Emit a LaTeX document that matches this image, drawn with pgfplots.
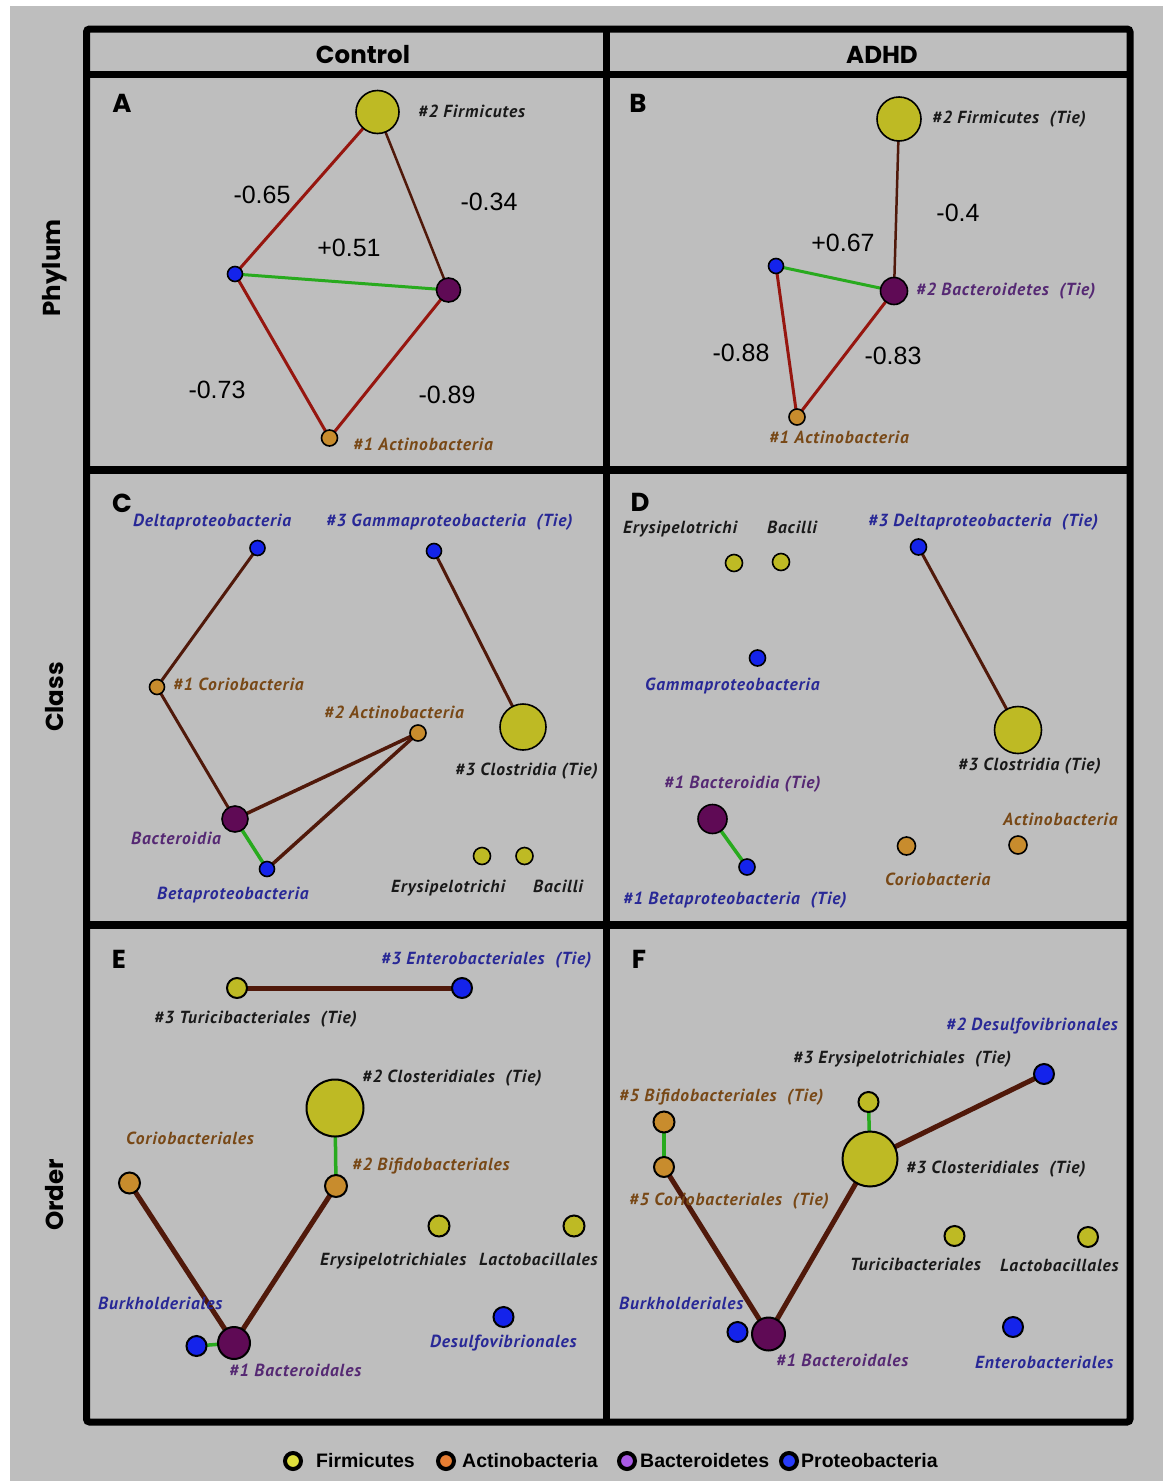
\documentclass[border=0pt]{standalone}
\usepackage{pgfplots}
\pgfplotsset{compat=1.18}
\usepackage{pgfplotstable}
\usepackage{fontspec}
\setmainfont{Liberation Sans}
\newfontfamily\hdr{Poppins}
\newfontfamily\lab[LetterSpace=5]{PT Sans}
\definecolor{bg}{RGB}{190,190,190}
\definecolor{cF}{RGB}{190,186,36}
\definecolor{cA}{RGB}{200,140,45}
\definecolor{cB}{RGB}{95,10,85}
\definecolor{cP}{RGB}{20,35,235}
\definecolor{tF}{RGB}{25,25,25}
\definecolor{tA}{RGB}{120,72,22}
\definecolor{tB}{RGB}{85,40,115}
\definecolor{tP}{RGB}{40,40,150}
\definecolor{eR}{RGB}{150,22,15}
\definecolor{eD}{RGB}{80,25,10}
\definecolor{eG}{RGB}{40,170,30}
\definecolor{lF}{RGB}{222,222,60}
\definecolor{lA}{RGB}{230,125,50}
\definecolor{lB}{RGB}{170,90,230}
\definecolor{lP}{RGB}{40,60,250}

\tikzset{
  lbl/.style={anchor=west, inner sep=0pt, text height=12pt, text depth=3pt,
     font=\lab\bfseries\itshape\fontsize{17.5}{19}\selectfont},
  num/.style={inner sep=0pt, font=\fontsize{25}{28}\selectfont, text=black},
  hd/.style={inner sep=0pt, font=\hdr\bfseries\fontsize{24.5}{26}\selectfont},
  pl/.style={inner sep=0pt, font=\hdr\bfseries\fontsize{26}{30}\selectfont},
  lg/.style={anchor=west, inner sep=0pt, font=\bfseries\fontsize{19.5}{22}\selectfont},
}

% nodes: x y radius phylum
\pgfplotstableread{
x y r c
377.5 112 21.5 F
235 274 7.5 P
448.5 290 12 B
329.5 438 8 A
}\nodesA
\pgfplotstableread{
x y r c
899 119 22 F
894 291 13.5 B
776 266 7.5 P
797 417 8 A
}\nodesB
\pgfplotstableread{
x y r c
257.5 548 7.5 P
434 551 7.5 P
157 687 7.5 A
418 733 8 A
523 727 23 F
235 819 13 B
267 869 7.5 P
482 856 8.5 F
524.5 856 8.5 F
}\nodesC
\pgfplotstableread{
x y r c
734 563 8.5 F
781 562 8.5 F
757.5 658 8 P
918.5 547 8 P
1018 730 23.5 F
712.5 819 14.5 B
747 867 8 P
906.5 846 9 A
1018 845 9 A
}\nodesD
\pgfplotstableread{
x y r c
237 988 10 F
462 988 10 P
335 1108 28.5 F
129.5 1183 10.5 A
336 1186 11 A
439 1226 10.5 F
574 1226 10.5 F
503.5 1317 10 P
196.5 1346 10 P
234 1343 16 B
}\nodesE
\pgfplotstableread{
x y r c
1044 1074 10 P
868.5 1102 10 F
664 1122 10.5 A
664 1167 10 A
870 1159 27.5 F
954.5 1236 10 F
1088 1237 10 F
737.5 1332 10 P
768.5 1334 16.5 B
1013 1327 10 P
}\nodesF
\pgfplotstableread{
x y r c
293 1461 8 F
446 1461 8 A
627 1461 8 B
789 1461 8 P
}\legnodes

\newcommand\nodeplot[2]{%
\addplot[scatter, only marks, scatter src=explicit symbolic,
  scatter/classes={F={mark=*,fill=cF},A={mark=*,fill=cA},B={mark=*,fill=cB},P={mark=*,fill=cP}},
  mark options={draw=black, line width=#2},
  visualization depends on={\thisrow{r}\as\rr},
  scatter/@pre marker code/.append style={/tikz/mark size=\rr}]
  table[x=x,y=y,meta=c]{#1};}

\begin{document}
\begin{tikzpicture}
\begin{axis}[width=1163pt, height=1481pt, scale only axis,
  xmin=0, xmax=1163, ymin=0, ymax=1481, y dir=reverse,
  hide axis, clip=false]
% background
\fill[white] (axis cs:0,0) rectangle (axis cs:1163,1481);
\fill[bg] (axis cs:10,6) rectangle (axis cs:1163,1481);
% frame
\draw[line width=7pt, rounded corners=3pt] (axis cs:86.5,29) rectangle (axis cs:1130,1422);
\draw[line width=7pt] (axis cs:86,74) -- (axis cs:1130,74);
\draw[line width=8pt] (axis cs:86,470) -- (axis cs:1130,470);
\draw[line width=8pt] (axis cs:86,925) -- (axis cs:1130,925);
\draw[line width=7pt] (axis cs:606,29) -- (axis cs:606,1422);
% headers
\node[hd] at (axis cs:363,55) {Control};
\node[hd] at (axis cs:882,55) {ADHD};
\node[hd, rotate=90] at (axis cs:55,268) {Phylum};
\node[hd, rotate=90] at (axis cs:55,697) {Class};
\node[hd, rotate=90] at (axis cs:55,1195) {Order};
\node[pl] at (axis cs:122,103) {A};
\node[pl] at (axis cs:638,103) {B};
\node[pl] at (axis cs:122,503) {C};
\node[pl] at (axis cs:640,502) {D};
\node[pl] at (axis cs:119,959) {E};
\node[pl] at (axis cs:639,959) {F};

% ---- Panel A edges
\addplot[eR, line width=3pt] coordinates {(377.5,112) (235,274)};
\addplot[eD, line width=2.5pt] coordinates {(377.5,112) (448.5,290)};
\addplot[eG, line width=3pt] coordinates {(235,274) (448.5,290)};
\addplot[eR, line width=3pt] coordinates {(235,274) (329.5,438)};
\addplot[eR, line width=3pt] coordinates {(448.5,290) (329.5,438)};
\nodeplot{\nodesA}{1.6pt}
\node[lbl, text=tF] at (axis cs:418,113) {\#2 Firmicutes};
\node[lbl, text=tA] at (axis cs:353,446) {\#1 Actinobacteria};
\node[num] at (axis cs:262,195) {-0.65};
\node[num] at (axis cs:489,202) {-0.34};
\node[num] at (axis cs:349,248) {+0.51};
\node[num] at (axis cs:217,390) {-0.73};
\node[num] at (axis cs:447,395) {-0.89};

% ---- Panel B
\addplot[eD, line width=2.5pt] coordinates {(899,119) (894,291)};
\addplot[eG, line width=3pt] coordinates {(776,266) (894,291)};
\addplot[eR, line width=3pt] coordinates {(776,266) (797,417)};
\addplot[eR, line width=3pt] coordinates {(894,291) (797,417)};
\nodeplot{\nodesB}{1.6pt}
\node[lbl, text=tF] at (axis cs:932,119) {\#2 Firmicutes\ \ (Tie)};
\node[lbl, text=tB] at (axis cs:916,291) {\#2 Bacteroidetes\ \ (Tie)};
\node[lbl, text=tA] at (axis cs:769,439) {\#1 Actinobacteria};
\node[num] at (axis cs:958,213) {-0.4};
\node[num] at (axis cs:843,243) {+0.67};
\node[num] at (axis cs:741,353) {-0.88};
\node[num] at (axis cs:893,356) {-0.83};

% ---- Panel C
\addplot[eD, line width=3pt] coordinates {(257.5,548) (157,687)};
\addplot[eD, line width=3pt] coordinates {(157,687) (235,819)};
\addplot[eD, line width=3.5pt] coordinates {(235,819) (418,733)};
\addplot[eD, line width=3.5pt] coordinates {(418,733) (267,869)};
\addplot[eG, line width=3.5pt] coordinates {(235,819) (267,869)};
\addplot[eD, line width=3pt] coordinates {(434,551) (523,727)};
\nodeplot{\nodesC}{1.6pt}
\node[lbl, text=tP] at (axis cs:133,522) {Deltaproteobacteria};
\node[lbl, text=tP] at (axis cs:326,522) {\#3 Gammaproteobacteria\ \ (Tie)};
\node[lbl, text=tA] at (axis cs:173,686) {\#1 Coriobacteria};
\node[lbl, text=tA] at (axis cs:324,714) {\#2 Actinobacteria};
\node[lbl, text=tF] at (axis cs:455,771) {\#3 Clostridia (Tie)};
\node[lbl, text=tB] at (axis cs:131,840) {Bacteroidia};
\node[lbl, text=tP] at (axis cs:157,895) {Betaproteobacteria};
\node[lbl, text=tF] at (axis cs:391,888) {Erysipelotrichi};
\node[lbl, text=tF] at (axis cs:533,888) {Bacilli};

% ---- Panel D
\addplot[eD, line width=3pt] coordinates {(918.5,547) (1018,730)};
\addplot[eG, line width=3.5pt] coordinates {(712.5,819) (747,867)};
\nodeplot{\nodesD}{1.6pt}
\node[lbl, text=tF] at (axis cs:623,529) {Erysipelotrichi};
\node[lbl, text=tF] at (axis cs:767,529) {Bacilli};
\node[lbl, text=tP] at (axis cs:645,686) {Gammaproteobacteria};
\node[lbl, text=tP] at (axis cs:868,522) {\#3 Deltaproteobacteria\ \ (Tie)};
\node[lbl, text=tF] at (axis cs:958,766) {\#3 Clostridia (Tie)};
\node[lbl, text=tB] at (axis cs:664,784) {\#1 Bacteroidia (Tie)};
\node[lbl, text=tP] at (axis cs:623,900) {\#1 Betaproteobacteria\ \ (Tie)};
\node[lbl, text=tA] at (axis cs:885,881) {Coriobacteria};
\node[lbl, text=tA] at (axis cs:1003,821) {Actinobacteria};

% ---- Panel E
\addplot[eD, line width=5pt] coordinates {(237,988) (462,988)};
\addplot[eG, line width=3.5pt] coordinates {(335,1108) (336,1186)};
\addplot[eD, line width=5pt] coordinates {(129.5,1183) (234,1343)};
\addplot[eD, line width=5pt] coordinates {(336,1186) (234,1343)};
\addplot[eG, line width=3.5pt] coordinates {(196.5,1346) (234,1343)};
\nodeplot{\nodesE}{2pt}
\node[lbl, text=tP] at (axis cs:381,960) {\#3 Enterobacteriales\ \ (Tie)};
\node[lbl, text=tF] at (axis cs:154,1019) {\#3 Turicibacteriales\ \ (Tie)};
\node[lbl, text=tF] at (axis cs:362,1078) {\#2 Closteridiales\ \ (Tie)};
\node[lbl, text=tA] at (axis cs:126,1140) {Coriobacteriales};
\node[lbl, text=tA] at (axis cs:352,1166) {\#2 Bifidobacteriales};
\node[lbl, text=tF] at (axis cs:320,1261) {Erysipelotrichiales};
\node[lbl, text=tF] at (axis cs:479,1261) {Lactobacillales};
\node[lbl, text=tP] at (axis cs:98,1305) {Burkholderiales};
\node[lbl, text=tP] at (axis cs:430,1343) {Desulfovibrionales};
\node[lbl, text=tB] at (axis cs:229,1372) {\#1 Bacteroidales};

% ---- Panel F
\addplot[eD, line width=5pt] coordinates {(1044,1074) (870,1159)};
\addplot[eG, line width=3.5pt] coordinates {(868.5,1102) (870,1159)};
\addplot[eG, line width=3.5pt] coordinates {(664,1122) (664,1167)};
\addplot[eD, line width=5pt] coordinates {(664,1167) (768.5,1334)};
\addplot[eD, line width=5pt] coordinates {(870,1159) (768.5,1334)};
\nodeplot{\nodesF}{2pt}
\node[lbl, text=tP] at (axis cs:946,1026) {\#2 Desulfovibrionales};
\node[lbl, text=tF] at (axis cs:793,1059) {\#3 Erysipelotrichiales\ \ (Tie)};
\node[lbl, text=tA] at (axis cs:619,1097) {\#5 Bifidobacteriales\ \ (Tie)};
\node[lbl, text=tA] at (axis cs:629,1201) {\#5 Coriobacteriales\ \ (Tie)};
\node[lbl, text=tF] at (axis cs:906,1169) {\#3 Closteridiales\ \ (Tie)};
\node[lbl, text=tF] at (axis cs:850,1266) {Turicibacteriales};
\node[lbl, text=tF] at (axis cs:1000,1267) {Lactobacillales};
\node[lbl, text=tP] at (axis cs:619,1305) {Burkholderiales};
\node[lbl, text=tB] at (axis cs:776,1362) {\#1 Bacteroidales};
\node[lbl, text=tP] at (axis cs:975,1364) {Enterobacteriales};

% ---- Legend
\addplot[scatter, only marks, scatter src=explicit symbolic,
  scatter/classes={F={mark=*,fill=lF},A={mark=*,fill=lA},B={mark=*,fill=lB},P={mark=*,fill=lP}},
  mark options={draw=black, line width=4pt},
  visualization depends on={\thisrow{r}\as\rr},
  scatter/@pre marker code/.append style={/tikz/mark size=\rr}]
  table[x=x,y=y,meta=c]{\legnodes};
\node[lg] at (axis cs:316,1461) {Firmicutes};
\node[lg] at (axis cs:462,1461) {Actinobacteria};
\node[lg] at (axis cs:640,1461) {Bacteroidetes};
\node[lg] at (axis cs:801,1461) {Proteobacteria};
\end{axis}
\end{tikzpicture}
\end{document}
